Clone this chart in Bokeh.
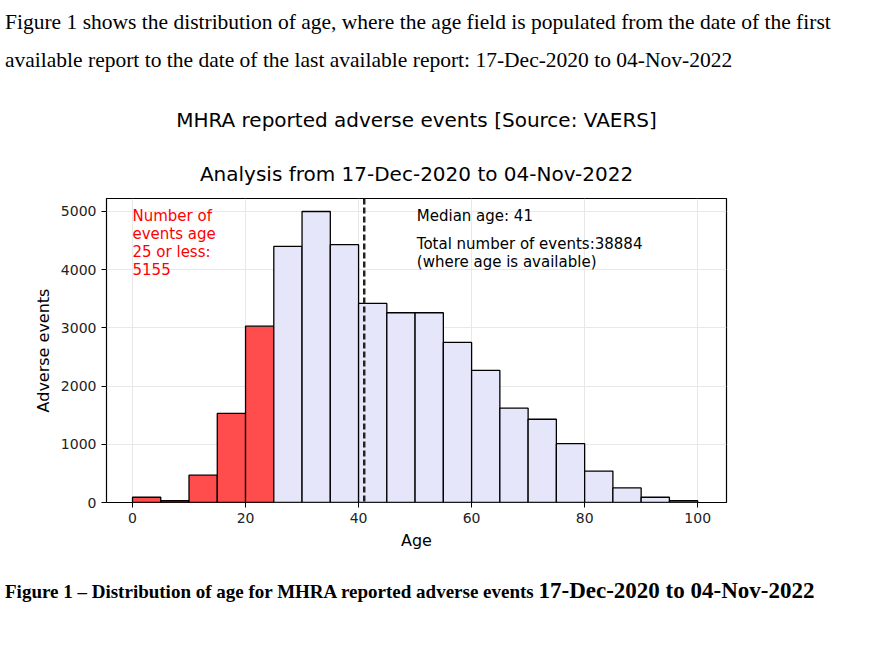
from bokeh.plotting import figure
from bokeh.models import Div, Title, Label, Span, Range1d
from bokeh.layouts import column
from bokeh.embed import file_html
from bokeh.resources import INLINE

bin_left = [0, 5, 10, 15, 20, 25, 30, 35, 40, 45, 50, 55, 60, 65, 70, 75, 80, 85, 90, 95]
counts = [90, 30, 470, 1530, 3030, 4400, 5000, 4430, 3420, 3260, 3260, 2750, 2270, 1620, 1430, 1010, 540, 250, 90, 30]
median_age = 41
total_events = 38884
young_events = 5155

top = Div(text="<div style='font-family:\"Liberation Serif\";font-size:21.5px;line-height:38px;margin-top:-2px;color:#000;white-space:nowrap'>"
          "Figure 1 shows the distribution of age, where the age field is populated from the date of the first<br>"
          "available report to the date of the last available report: 17-Dec-2020 to 04-Nov-2022</div>",
          width=858, height=80)

p = figure(frame_width=620, frame_height=304, min_border_left=106, min_border_right=30,
           min_border_top=24, min_border_bottom=10,
           x_range=Range1d(-4.6, 105.1), y_range=Range1d(0, 5223),
           output_backend="svg", toolbar_location=None)
p.title.text = "MHRA reported adverse events [Source: VAERS]"
p.title.text_font = "DejaVu Sans"; p.title.text_font_size = "20px"; p.title.text_font_style = "normal"
p.title.text_color = "black"
p.title.align = "center"; p.title.standoff = 30
t2 = Title(text="Analysis from 17-Dec-2020 to 04-Nov-2022", text_font="DejaVu Sans", text_color="black",
           text_font_size="20px", text_font_style="normal", align="center", standoff=26)
p.add_layout(t2, "above")

right = [b + 5 for b in bin_left]
colors = ["#ff4c4c" if b < 25 else "#e6e6fa" for b in bin_left]
p.quad(left=bin_left, right=right, bottom=0, top=counts, fill_color=colors, line_color="black", line_width=1.3)
p.add_layout(Span(location=median_age, dimension="height", line_color="#222", line_dash="6 3", line_width=2.5))

p.add_layout(Label(x=0, y=5080, text=f"Number of\nevents age\n25 or less:\n{young_events}", text_color="red",
                   text_font="DejaVu Sans", text_font_size="15px", text_baseline="top", text_line_height=1.0))
p.add_layout(Label(x=50.3, y=5080, text=f"Median age: {median_age}", text_color="black",
                   text_font="DejaVu Sans", text_font_size="15px", text_baseline="top"))
p.add_layout(Label(x=50.3, y=4600, text=f"Total number of events:{total_events}\n(where age is available)",
                   text_color="black", text_font="DejaVu Sans", text_font_size="15px", text_baseline="top",
                   text_line_height=1.0))

p.xaxis.ticker = [0, 20, 40, 60, 80, 100]
p.yaxis.ticker = [0, 1000, 2000, 3000, 4000, 5000]
p.xaxis.axis_label = "Age"; p.yaxis.axis_label = "Adverse events"
for ax in (p.xaxis, p.yaxis):
    ax.axis_label_text_font = "DejaVu Sans"; ax.axis_label_text_font_size = "16px"
    ax.axis_label_text_font_style = "normal"; ax.axis_label_text_color = "black"
    ax.major_label_text_font = "DejaVu Sans"; ax.major_label_text_font_size = "14px"
    ax.axis_line_color = None; ax.minor_tick_line_color = None
    ax.major_tick_out = 5; ax.major_tick_in = 0
    ax.major_label_text_color = "#222"
p.grid.grid_line_color = "#e8e8e8"
p.outline_line_color = "black"; p.outline_line_width = 1.2
p.background_fill_color = "white"

cap = Div(text="<div style='font-family:\"Liberation Serif\";font-weight:bold;font-size:19px;color:#000;margin-top:18px;white-space:nowrap'>"
          "Figure 1 – Distribution of age for MHRA reported adverse events <span style='font-size:23px'>17-Dec-2020 to 04-Nov-2022</span></div>",
          width=858, height=50)

page = column(top, p, cap, spacing=0)
open("out.html", "w").write(file_html(page, INLINE))
